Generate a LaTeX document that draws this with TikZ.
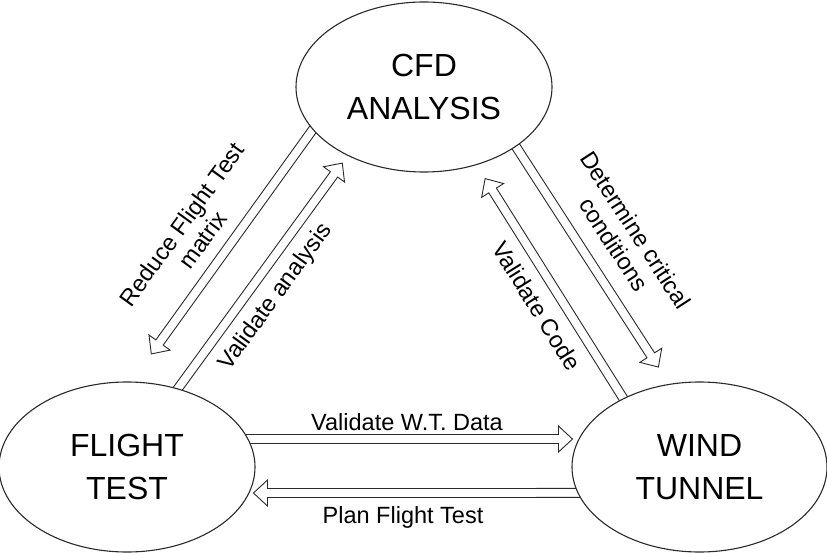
\documentclass[tikz,border=0pt]{standalone}
\usepackage{fontspec}
\setmainfont{Liberation Sans}
\usetikzlibrary{calc,shapes.geometric}
\pgfdeclarelayer{bg}
\pgfsetlayers{bg,main}
\definecolor{ink}{HTML}{2A2A2A}
\tikzset{
  blob/.style={ellipse, draw=ink, fill=white, line width=1.1pt, minimum width=256pt,
    minimum height=170pt, inner sep=0pt, align=center, text=black,
    font=\fontsize{32}{43}\selectfont},
  lbl/.style={align=center, inner sep=0pt, text=black, font=\fontsize{23.5}{26}\selectfont},
  harrowline/.style={draw=ink, line width=0.9pt, line join=miter, fill=white}
}
% hollow double-line arrow from #1 to #2; #3 = tail extension, #4 = tip shortening
\newcommand\harrow[4]{%
  \path let \p1=($#2-#1$) in \pgfextra{\pgfmathsetmacro\hA{atan2(\y1,\x1)}\pgfmathsetmacro\hL{veclen(\x1,\y1)}\global\let\hAg\hA\global\let\hLg\hL};
  \pgfmathsetmacro\hT{\hLg-#4}\pgfmathsetmacro\hB{\hT-14}%
  \draw[harrowline, shift={#1}, rotate=\hAg] (-#3pt,4.5pt) -- (\hB pt,4.5pt) -- (\hB pt,13pt) -- (\hT pt,0pt) -- (\hB pt,-13pt) -- (\hB pt,-4.5pt) -- (-#3pt,-4.5pt);
}
\begin{document}
\begin{tikzpicture}[x=1pt,y=-1pt]
  \useasboundingbox (0,0) rectangle (827,553);

  \node[blob] (cfd) at (424,87) {CFD\\ANALYSIS};
  \node[blob] (ft) at (127,467) {FLIGHT\\TEST};
  \node[blob, minimum width=255pt] (wt) at (699.5,467) {WIND\\TUNNEL};

  \begin{pgfonlayer}{bg}
    \fill[white] (0,0) rectangle (827,553);
    \harrow{(ft.13)}{(wt.167)}{8}{6}
    \harrow{(wt.192)}{(ft.-12)}{8}{4}
    \harrow{(cfd.201)}{(ft.87)}{8}{34}
    \harrow{(ft.57)}{(cfd.222)}{8}{9}
    \harrow{(cfd.-33)}{(wt.110)}{8}{20}
    \harrow{(wt.138)}{(cfd.-56)}{8}{16}
  \end{pgfonlayer}

  \node[lbl, anchor=base] (l1) at (407,430) {Validate W.T. Data};
  \node[lbl, anchor=base] (l2) at (403,523) {Plan Flight Test};
  \node[lbl, rotate=54] (l3) at (192,232) {Reduce Flight Test\\matrix};
  \node[lbl, rotate=54] (l4) at (276,297) {Validate analysis};
  \node[lbl, rotate=-57] (l5) at (625,237) {Determine critical\\conditions};
  \node[lbl, rotate=-58] (l6) at (537,306) {Validate Code};
\end{tikzpicture}
\end{document}
